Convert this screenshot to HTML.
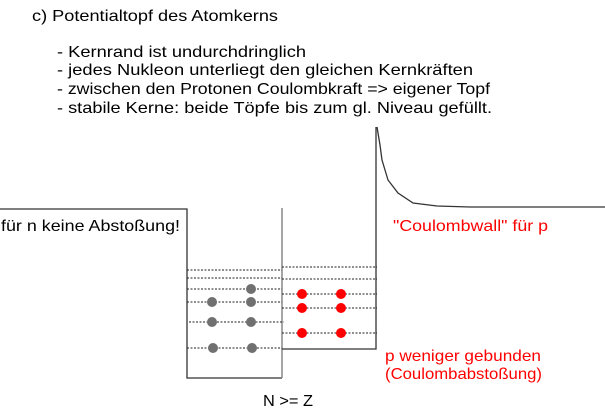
<!DOCTYPE html>
<html><head><meta charset="utf-8"><style>
html,body{margin:0;padding:0;background:#fff;}
svg{display:block;}
text{font-family:"Liberation Sans",sans-serif;font-size:16px;}
</style></head><body>
<svg width="605" height="411" viewBox="0 0 605 411" xmlns="http://www.w3.org/2000/svg">
<text x="32" y="21" textLength="246" lengthAdjust="spacingAndGlyphs">c) Potentialtopf des Atomkerns</text>
<text x="57" y="57" textLength="249" lengthAdjust="spacingAndGlyphs">- Kernrand ist undurchdringlich</text>
<text x="57" y="75" textLength="416" lengthAdjust="spacingAndGlyphs">- jedes Nukleon unterliegt den gleichen Kernkräften</text>
<text x="57" y="94" textLength="433" lengthAdjust="spacingAndGlyphs">- zwischen den Protonen Coulombkraft =&gt; eigener Topf</text>
<text x="57" y="113" textLength="435" lengthAdjust="spacingAndGlyphs">- stabile Kerne: beide Töpfe bis zum gl. Niveau gefüllt.</text>

<g fill="none" stroke="#333" stroke-width="1.3">
<polyline points="0,209 187,209 187,378 282,378"/>
<line x1="282" y1="208" x2="282" y2="378" stroke="#888" stroke-width="1.5"/>
<polyline points="282,349 376,349 376,127"/>
<polyline points="377,127 380,145 382,160 388,180 398,193 413,203 437,206 470,207 605,207"/>
</g>

<g stroke="#222" stroke-width="1" stroke-dasharray="2,1.5">
<line x1="187" y1="270" x2="282" y2="270"/>
<line x1="187" y1="278" x2="282" y2="278"/>
<line x1="187" y1="289" x2="282" y2="289"/>
<line x1="187" y1="302" x2="282" y2="302"/>
<line x1="189" y1="322" x2="284" y2="322"/>
<line x1="187" y1="348" x2="282" y2="348"/>
<line x1="282" y1="267" x2="377" y2="267"/>
<line x1="282" y1="279" x2="377" y2="279"/>
<line x1="282" y1="294" x2="377" y2="294"/>
<line x1="282" y1="308" x2="377" y2="308"/>
<line x1="282" y1="333" x2="377" y2="333"/>
</g>

<g fill="#707070">
<circle cx="251" cy="289" r="5"/>
<circle cx="212" cy="302" r="5"/><circle cx="251" cy="302" r="5"/>
<circle cx="212" cy="322" r="5"/><circle cx="251" cy="322" r="5"/>
<circle cx="213" cy="348" r="5"/><circle cx="252" cy="348" r="5"/>
</g>
<g fill="#ff0000">
<circle cx="302" cy="294" r="5"/><circle cx="341" cy="294" r="5"/>
<circle cx="302" cy="308" r="5"/><circle cx="341" cy="308" r="5"/>
<circle cx="302" cy="333" r="5"/><circle cx="341" cy="333" r="5"/>
</g>

<text x="1" y="231" textLength="179" lengthAdjust="spacingAndGlyphs">für n keine Abstoßung!</text>
<text x="393" y="231" fill="#ff0000" textLength="155" lengthAdjust="spacingAndGlyphs">"Coulombwall" für p</text>
<text x="385" y="361" fill="#ff0000" textLength="156" lengthAdjust="spacingAndGlyphs">p weniger gebunden</text>
<text x="385" y="379" fill="#ff0000" textLength="157" lengthAdjust="spacingAndGlyphs">(Coulombabstoßung)</text>
<text x="263" y="406" textLength="50" lengthAdjust="spacingAndGlyphs">N &gt;= Z</text>
</svg>
</body></html>
